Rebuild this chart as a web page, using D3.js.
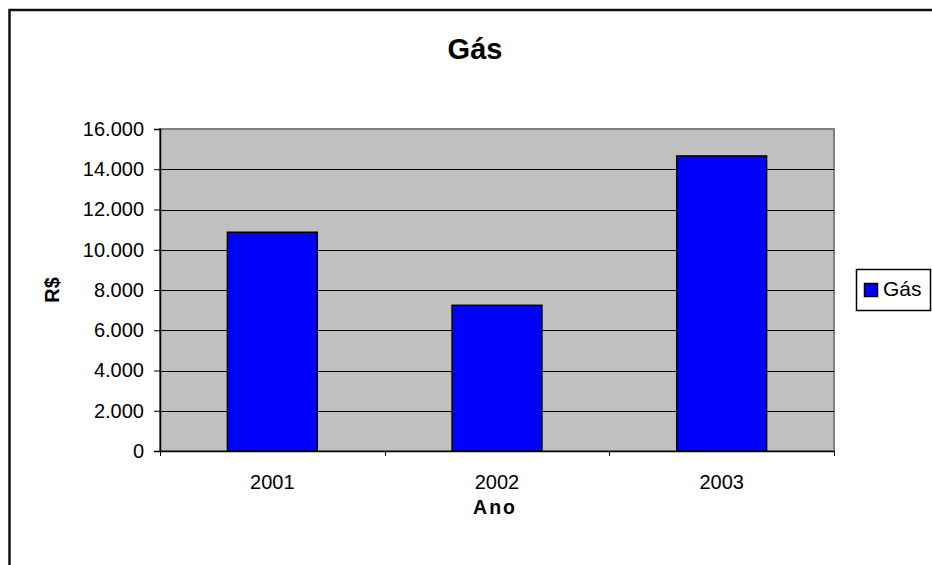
<!DOCTYPE html>
<html>
<head>
<meta charset="utf-8">
<script src="https://cdn.jsdelivr.net/npm/d3@7"></script>
<style>
  body { margin: 0; background: #fff; }
  svg { display: block; font-family: Arial, "Liberation Sans", sans-serif; }
</style>
</head>
<body>
<div id="vis"></div>
<script>
// data
var years = ["2001", "2002", "2003"];
var gasValues = [10870, 7240, 14660];
var yTicks = [0, 2000, 4000, 6000, 8000, 10000, 12000, 14000, 16000];

var width = 932;
var height = 565;

// plot area box
var margin = { top: 129, left: 160, right: 98, bottom: 114 };
var plotW = width - margin.left - margin.right;
var plotH = height - margin.top - margin.bottom;

var svg = d3.select("#vis")
    .append("svg")
    .attr("width", width)
    .attr("height", height);

// outer chart frame (runs off the page right and bottom)
svg.append("rect")
    .attr("x", 9.5)
    .attr("y", 10)
    .attr("width", 1000)
    .attr("height", 700)
    .attr("fill", "#fff")
    .attr("stroke", "#111")
    .attr("stroke-width", 2.5);

var g = svg.append("g")
    .attr("transform", "translate(" + margin.left + "," + margin.top + ")");

var xscale = d3.scaleBand()
    .domain(years)
    .range([0, plotW])
    .paddingInner(0.6)
    .paddingOuter(0.3);

var xcat = d3.scaleBand()
    .domain(years)
    .range([0, plotW]);

var yscale = d3.scaleLinear()
    .domain([0, 16000])
    .range([plotH, 0]);

// grey plot area
g.append("rect")
    .attr("width", plotW)
    .attr("height", plotH)
    .attr("fill", "#c0c0c0")
    .attr("stroke", "#808080")
    .attr("stroke-width", 2);

// gridlines
g.selectAll(".grid")
    .data(yTicks.filter(function(d) { return d > 0 && d < 16000; }))
    .enter()
    .append("line")
    .attr("class", "grid")
    .attr("x1", 0)
    .attr("x2", plotW)
    .attr("y1", function(d) { return Math.round(yscale(d)) + 0.5; })
    .attr("y2", function(d) { return Math.round(yscale(d)) + 0.5; })
    .attr("stroke", "#000")
    .attr("stroke-width", 1);

// bars
g.selectAll(".bar")
    .data(gasValues)
    .enter()
    .append("rect")
    .attr("class", "bar")
    .attr("x", function(d, i) { return xscale(years[i]); })
    .attr("width", xscale.bandwidth())
    .attr("y", function(d) { return yscale(d); })
    .attr("height", function(d) { return plotH - yscale(d); })
    .attr("fill", "#0000ff")
    .attr("stroke", "#000")
    .attr("stroke-width", 1.5);

// y axis
var yaxis = d3.axisLeft(yscale)
    .tickValues(yTicks)
    .tickSize(6)
    .tickPadding(10)
    .tickFormat(function(d) { return d === 0 ? "0" : d3.format(",")(d).replace(/,/g, "."); });

var yg = g.append("g").call(yaxis);

// x axis, ticks between categories
var xaxis = d3.axisBottom(xcat).tickSize(0).tickPadding(24);
var xg = g.append("g")
    .attr("transform", "translate(0," + plotH + ")")
    .call(xaxis);

g.append("g")
    .selectAll("line")
    .data([0, 1, 2, 3])
    .enter()
    .append("line")
    .attr("x1", function(d) { return Math.round(d * xcat.step()) + 0.5; })
    .attr("x2", function(d) { return Math.round(d * xcat.step()) + 0.5; })
    .attr("y1", plotH)
    .attr("y2", plotH + 5)
    .attr("stroke", "#000");

[yg, xg].forEach(function(a) {
    a.select(".domain").attr("stroke", "#000").attr("stroke-width", 1.5);
    a.selectAll(".tick line").attr("stroke", "#000");
    a.selectAll("text")
        .attr("fill", "#000")
        .style("font-size", "20px")
        .style("font-family", 'Arial, "Liberation Sans", sans-serif');
});

// title
svg.append("text")
    .attr("x", 475)
    .attr("y", 59)
    .attr("text-anchor", "middle")
    .style("font-size", "29px")
    .style("font-weight", "bold")
    .text("Gás");

// axis titles
svg.append("text")
    .attr("x", 495)
    .attr("y", 514)
    .attr("text-anchor", "middle")
    .style("font-size", "19.5px")
    .style("font-weight", "bold")
    .style("letter-spacing", "2px")
    .text("Ano");

svg.append("text")
    .attr("transform", "translate(59," + (margin.top + plotH / 2) + ") rotate(-90)")
    .attr("text-anchor", "middle")
    .style("font-size", "20px")
    .style("font-weight", "bold")
    .text("R$");

// legend
var legend = svg.append("g");
legend.append("rect")
    .attr("x", 856.5)
    .attr("y", 269.5)
    .attr("width", 74)
    .attr("height", 41)
    .attr("fill", "#fff")
    .attr("stroke", "#000")
    .attr("stroke-width", 1.5);
legend.append("rect")
    .attr("x", 864.5)
    .attr("y", 283.5)
    .attr("width", 13)
    .attr("height", 13)
    .attr("fill", "#0000ff")
    .attr("stroke", "#000")
    .attr("stroke-width", 1.5);
legend.append("text")
    .attr("x", 883)
    .attr("y", 296)
    .style("font-size", "21px")
    .text("Gás");
</script>
</body>
</html>
